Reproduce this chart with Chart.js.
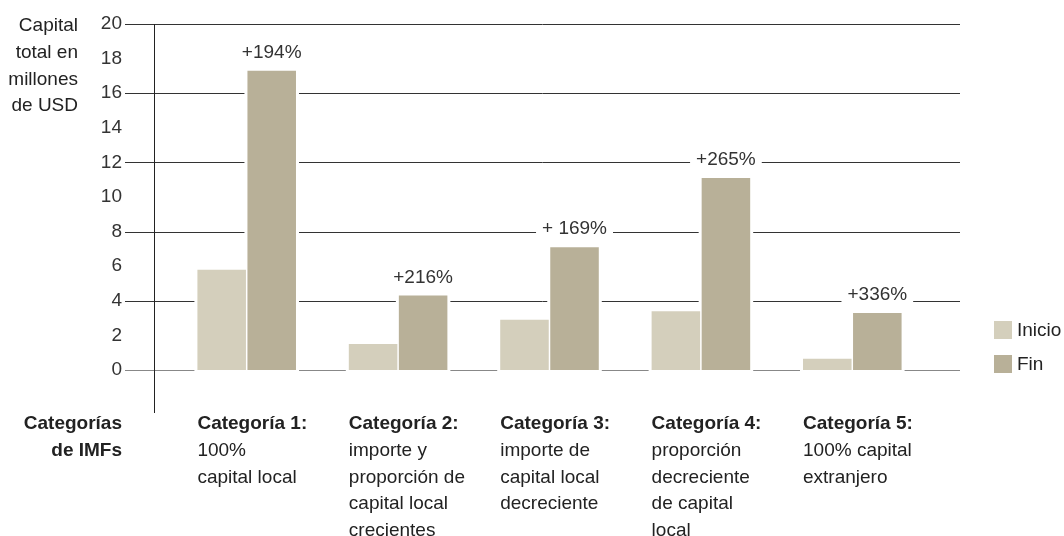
<!DOCTYPE html>
<html>
<head>
<meta charset="utf-8">
<script src="https://cdn.jsdelivr.net/npm/chart.js@4.4.1/dist/chart.umd.min.js"></script>
<style>
  html, body { margin: 0; padding: 0; background: #fff; }
  #wrap { width: 1064px; height: 536px; }
</style>
</head>
<body>
<div id="wrap"><canvas id="imfChart" width="1064" height="536"></canvas></div>
<script>
const categories = ['Categoría 1:', 'Categoría 2:', 'Categoría 3:', 'Categoría 4:', 'Categoría 5:'];
const descriptions = [
  ['100%', 'capital local'],
  ['importe y', 'proporción de', 'capital local', 'crecientes'],
  ['importe de', 'capital local', 'decreciente'],
  ['proporción', 'decreciente', 'de capital', 'local'],
  ['100% capital', 'extranjero']
];
const inicio = [5.8, 1.5, 2.9, 3.4, 0.65];
const fin = [17.3, 4.3, 7.1, 11.1, 3.3];
const growthLabels = ['+194%', '+216%', '+ 169%', '+265%', '+336%'];
const yTitle = ['Capital', 'total en', 'millones', 'de USD'];
const xTitle = ['Categorías', 'de IMFs'];

const FONT = '"Liberation Sans", Arial, sans-serif';
const TEXT = '#222';

// gridlines every 4, broken around bars, axis line, knockouts
const backdrop = {
  id: 'backdrop',
  beforeDatasetsDraw(chart) {
    const { ctx, chartArea, scales } = chart;
    const y = scales.y;
    ctx.save();
    y.ticks.forEach(t => {
      if (t.value % 4 !== 0) return;
      const py = Math.round(y.getPixelForValue(t.value)) + 0.5;
      ctx.strokeStyle = t.value === 0 ? '#888' : '#333';
      ctx.lineWidth = 1;
      ctx.beginPath();
      ctx.moveTo(chartArea.left - 46, py);
      ctx.lineTo(chartArea.right + 32, py);
      ctx.stroke();
    });
    // vertical axis
    const ax = chartArea.left - 16.5;
    ctx.strokeStyle = '#222';
    ctx.beginPath();
    ctx.moveTo(ax, y.getPixelForValue(20));
    ctx.lineTo(ax, chartArea.bottom + 43);
    ctx.stroke();
    // white gaps around bars
    ctx.fillStyle = '#fff';
    chart.data.datasets.forEach((ds, i) => {
      chart.getDatasetMeta(i).data.forEach(el => {
        const p = el.getProps(['x', 'y', 'base', 'width'], true);
        ctx.fillRect(p.x - p.width / 2 - 3, p.y - 3, p.width + 6, p.base - p.y + 5);
      });
    });
    ctx.restore();
  },
  afterDatasetsDraw(chart) {
    const { ctx, chartArea } = chart;
    ctx.save();
    ctx.font = '19px ' + FONT;
    ctx.textBaseline = 'middle';
    ctx.textAlign = 'center';
    // growth labels over the Fin bars
    const finMeta = chart.getDatasetMeta(1);
    finMeta.data.forEach((el, i) => {
      const p = el.getProps(['x', 'y'], true);
      const cy = p.y - 18;
      const w = ctx.measureText(growthLabels[i]).width + 12;
      ctx.fillStyle = '#fff';
      ctx.fillRect(p.x - w / 2, cy - 11, w, 22);
      ctx.fillStyle = '#333';
      ctx.fillText(growthLabels[i], p.x, cy);
    });
    // y axis title
    ctx.textAlign = 'right';
    ctx.fillStyle = TEXT;
    yTitle.forEach((line, i) => {
      ctx.fillText(line, chartArea.left - 93, chartArea.top + 2 + i * 26.7);
    });
    // category labels under the groups
    const inMeta = chart.getDatasetMeta(0);
    ctx.textAlign = 'left';
    inMeta.data.forEach((el, i) => {
      const p = el.getProps(['x', 'width'], true);
      const lx = p.x - p.width / 2;
      let ly = chartArea.bottom + 54;
      ctx.font = 'bold 19px ' + FONT;
      ctx.fillText(categories[i], lx, ly);
      ctx.font = '19px ' + FONT;
      descriptions[i].forEach(line => {
        ly += 26.7;
        ctx.fillText(line, lx, ly);
      });
    });
    // x title
    ctx.textAlign = 'right';
    ctx.font = 'bold 19px ' + FONT;
    xTitle.forEach((line, i) => {
      ctx.fillText(line, chartArea.left - 49, chartArea.bottom + 54 + i * 26.7);
    });
    // legend
    ctx.font = '19px ' + FONT;
    ctx.textAlign = 'left';
    chart.data.datasets.forEach((ds, i) => {
      const cy = chartArea.bottom - 40 + i * 34;
      ctx.fillStyle = ds.backgroundColor;
      ctx.fillRect(chartArea.right + 66, cy - 9, 18, 18);
      ctx.fillStyle = TEXT;
      ctx.fillText(ds.label, chartArea.right + 89, cy + 1);
    });
    ctx.restore();
  }
};

const ctx = document.getElementById('imfChart').getContext('2d');
const imfChart = new Chart(ctx, {
  type: 'bar',
  data: {
    labels: categories,
    datasets: [{
      label: 'Inicio',
      data: inicio,
      backgroundColor: '#d4cfbc',
      categoryPercentage: 0.661,
      barPercentage: 0.97,
    }, {
      label: 'Fin',
      data: fin,
      backgroundColor: '#b8b098',
      categoryPercentage: 0.661,
      barPercentage: 0.97,
    }],
  },
  options: {
    responsive: false,
    animation: false,
    layout: {
      padding: { left: 0, right: 136, top: 24, bottom: 166 },
    },
    plugins: {
      legend: { display: false },
      tooltip: { enabled: false },
    },
    scales: {
      x: { display: false },
      y: {
        min: 0,
        max: 20,
        afterFit(scale) { scale.width = 171; },
        grid: { display: false, drawTicks: true, tickLength: 49 },
        border: { display: false },
        ticks: {
          stepSize: 2,
          padding: 0,
          color: '#333',
          font: { family: FONT, size: 19 },
        },
      },
    },
  },
  plugins: [backdrop],
});
</script>
</body>
</html>
